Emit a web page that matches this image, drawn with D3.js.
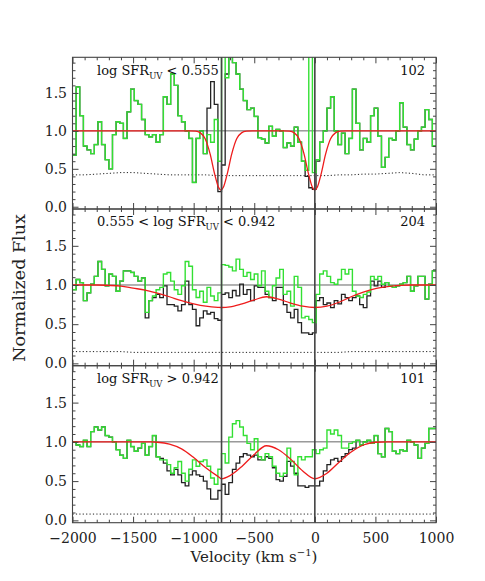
<!DOCTYPE html>
<html><head><meta charset="utf-8">
<script src="https://cdn.jsdelivr.net/npm/d3@7"></script>
<style>body{margin:0;background:#fff}</style>
</head><body><svg id="c" width="485" height="581"></svg>
<script>
// ---------- data ----------
const binStart = -2000, binWidth = 30; // velocity bins (km/s), 100 bins to +1000
const greenP1 = [0.68,1.58,1.2,0.8,0.75,0.7,0.82,1.12,0.82,0.62,
 0.5,0.95,1.12,1.1,0.9,1.25,1.55,1.4,1.35,1.15,
 0.95,0.92,0.95,0.85,0.95,1.45,1.35,1.75,1.6,1.2,
 1.12,1.0,0.9,0.32,0.9,1.0,0.7,0.95,0.85,1.15,
 0.6,2.1,1.7,2.0,1.9,1.75,1.55,1.4,1.28,1.3,
 1.19,0.91,0.89,0.84,1.06,0.93,1.02,1.0,0.78,0.84,
 0.8,1.05,0.85,0.6,0.48,2.1,0.45,0.62,0.85,1.0,
 1.3,1.45,1.0,0.82,0.97,0.7,0.9,1.55,1.1,0.75,
 0.9,0.85,1.2,1.3,0.93,0.52,0.65,0.9,0.88,1.0,
 1.37,1.05,0.82,0.75,0.89,1.0,1.05,1.28,1.15,0.8];
const blackP1 = [0.68,1.58,1.2,0.8,0.75,0.7,0.82,1.12,0.82,0.62,
 0.5,0.95,1.12,1.1,0.9,1.25,1.55,1.4,1.35,1.15,
 0.95,0.92,0.95,0.85,0.95,1.45,1.35,1.75,1.6,1.2,
 1.12,1.0,0.9,0.32,0.9,1.0,0.7,1.3,1.65,1.35,
 0.2,0.55,1.75,2.0,1.9,1.75,1.55,1.4,1.28,1.3,
 1.19,0.91,0.89,0.84,1.06,0.93,1.02,1.0,0.78,0.84,
 0.8,1.05,0.85,0.6,0.4,0.25,0.23,0.6,0.85,1.0,
 1.3,1.45,1.0,0.82,0.97,0.7,0.9,1.55,1.1,0.75,
 0.9,0.85,1.2,1.3,0.93,0.52,0.65,0.9,0.88,1.0,
 1.37,1.05,0.82,0.75,0.89,1.0,1.05,1.28,1.15,0.8];
const greenP2 = [0.94,1.07,1.03,0.8,0.9,1.01,1.11,1.3,1.2,0.99,
 1.14,1.11,0.92,1.05,1.18,1.18,1.16,1.11,1.05,1.09,
 0.65,0.8,0.86,0.94,0.97,1.14,1.16,1.05,0.94,0.88,
 0.99,1.3,1.24,0.94,0.84,0.92,0.78,0.97,0.86,0.8,
 0.9,1.26,1.25,1.23,1.18,1.33,1.2,1.11,1.16,1.07,
 1.14,0.99,1.18,0.92,0.84,0.99,1.09,1.2,0.88,0.92,
 0.73,1.11,0.97,0.58,0.6,0.56,0.52,0.88,1.14,1.18,
 1.11,1.03,1.01,1.07,1.2,1.14,1.2,0.92,0.86,0.84,
 0.88,0.91,1.11,1.07,1.11,1.01,1.03,0.99,0.97,0.99,
 1.01,1.03,1.11,0.92,0.99,1.11,1.11,0.82,1.01,1.18];
const blackP2 = [0.94,1.07,1.03,0.8,0.9,1.01,1.11,1.3,1.2,0.99,
 1.14,1.11,0.92,1.05,1.18,1.18,1.16,1.11,1.05,1.09,
 0.58,0.8,0.84,0.88,0.84,0.99,0.75,0.75,0.73,0.67,
 0.75,1.05,0.75,0.69,0.48,0.58,0.67,0.63,0.65,0.57,
 0.55,0.88,0.9,0.84,0.93,0.86,1.01,0.88,0.94,0.8,
 0.99,0.97,0.97,0.88,0.84,0.8,0.97,0.97,0.75,0.65,
 0.58,0.69,0.52,0.39,0.39,0.37,0.39,0.8,0.84,0.75,
 0.77,0.71,0.8,0.76,0.88,0.84,0.8,0.84,0.86,0.75,
 0.71,0.86,1.05,0.99,1.05,0.97,1.03,0.99,0.97,0.99,
 1.01,1.03,1.11,0.92,0.99,1.11,1.11,0.82,1.01,1.18];
const greenP3 = [1.0,0.96,0.94,1.02,0.94,1.13,1.19,1.15,1.19,1.08,
 1.06,1.0,0.9,0.83,0.79,1.02,0.94,0.88,0.92,0.98,
 0.83,0.94,1.08,0.81,0.77,0.77,0.71,0.6,0.67,0.75,
 0.6,0.5,0.65,0.77,0.69,0.75,0.77,0.69,0.54,0.46,
 0.65,0.85,0.73,1.06,1.23,1.27,1.19,1.08,0.98,0.9,
 1.04,0.81,0.77,0.85,0.81,0.69,0.6,0.56,0.6,0.92,
 0.75,0.58,0.81,0.77,0.81,0.81,0.9,0.85,0.9,0.92,
 1.15,1.1,1.15,1.08,0.92,0.92,0.98,1.0,1.02,0.96,
 1.0,1.02,0.98,1.08,0.85,0.81,1.17,1.13,0.88,0.85,
 0.9,0.88,1.02,1.0,0.96,0.79,0.92,0.98,1.17,1.17];
const blackP3 = [1.0,0.96,0.94,1.02,0.94,1.13,1.19,1.15,1.19,1.08,
 1.06,1.0,0.9,0.83,0.79,1.02,0.94,0.88,0.92,0.98,
 0.83,0.94,1.08,0.81,0.79,0.73,0.63,0.58,0.65,0.58,
 0.48,0.44,0.58,0.63,0.58,0.56,0.5,0.4,0.27,0.27,
 0.38,0.46,0.33,0.48,0.65,0.73,0.81,0.85,0.83,0.81,
 0.83,0.77,0.77,0.81,0.79,0.67,0.52,0.5,0.56,0.75,
 0.69,0.6,0.44,0.44,0.42,0.44,0.44,0.44,0.5,0.63,
 0.71,0.77,0.79,0.75,0.81,0.85,0.9,0.92,1.02,0.96,
 1.0,1.02,0.98,1.08,0.85,0.81,1.17,1.13,0.88,0.85,
 0.9,0.88,1.02,1.0,0.96,0.79,0.92,0.98,1.17,1.17];

// model fits (red): velocity / flux pairs
const modelV1 = [-2000,-1035,-985,-945,-905,-865,-825,-795,-775,-755,-725,-685,-645,-605,-565,-515,
                 -260,-210,-170,-130,-90,-50,-20,0,20,50,90,130,170,210,260,1000];
const modelF1 = [1,1,0.996,0.974,0.895,0.70,0.42,0.256,0.22,0.256,0.42,0.70,0.895,0.974,0.996,1,
                 1,0.996,0.974,0.895,0.70,0.42,0.256,0.22,0.256,0.42,0.70,0.895,0.974,0.996,1,1];
const modelV2 = [-2000,-1800,-1700,-1600,-1500,-1400,-1300,-1200,-1100,-1000,-900,-800,-770,-700,-600,-500,-400,-300,-200,-100,0,100,200,300,400,500,600,700,800,1000];
const modelF2 = [1,1,0.995,0.985,0.96,0.935,0.895,0.85,0.8,0.76,0.73,0.715,0.713,0.72,0.76,0.81,0.85,0.82,0.77,0.73,0.713,0.73,0.78,0.85,0.91,0.955,0.98,0.995,1,1];
const modelV3 = [-2000,-1350,-1300,-1200,-1100,-1000,-900,-800,-770,-700,-600,-500,-400,-300,-200,-100,0,100,200,300,400,500,600,1000];
const modelF3 = [1,1,0.995,0.97,0.91,0.8,0.67,0.56,0.53,0.57,0.69,0.84,0.95,0.9,0.78,0.63,0.53,0.6,0.74,0.87,0.96,0.995,1,1];

// error spectra (dotted), sampled every 100 km/s from -2000 to 1000
const errV = [-2000,-1900,-1800,-1700,-1600,-1500,-1400,-1300,-1200,-1100,-1000,-900,-800,-700,-600,-500,-400,-300,-200,-100,0,100,200,300,400,500,600,700,800,900,1000];
const errP1 = [0.42,0.42,0.43,0.44,0.45,0.45,0.44,0.43,0.42,0.42,0.42,0.42,0.41,0.41,0.41,0.41,0.41,0.41,0.41,0.41,0.41,0.41,0.42,0.42,0.43,0.43,0.44,0.45,0.44,0.42,0.42];
const errP2 = [0.15,0.15,0.15,0.15,0.15,0.14,0.14,0.14,0.14,0.14,0.14,0.14,0.14,0.14,0.14,0.14,0.14,0.14,0.14,0.14,0.14,0.14,0.14,0.15,0.15,0.15,0.15,0.15,0.15,0.15,0.15];
const errP3 = [0.08,0.08,0.08,0.08,0.08,0.08,0.08,0.08,0.08,0.08,0.08,0.08,0.08,0.08,0.08,0.08,0.08,0.08,0.08,0.08,0.08,0.08,0.08,0.08,0.08,0.08,0.08,0.08,0.08,0.08,0.08];

const lineVelocities = [-770, 0];
const xTicks = [-2000,-1500,-1000,-500,0,500,1000];
const yTicks = [0,0.5,1.0,1.5];
const panelPrefix = ["log SFR", "0.555 < log SFR", "log SFR"];
const panelSuffix = [" < 0.555", " < 0.942", " > 0.942"];
const panelCounts = ["102","204","101"];

// ---------- drawing ----------
const svg = d3.select("#c");
svg.append("rect").attr("width",485).attr("height",581).attr("fill","#fff");
const FONT = "DejaVu Serif";
const AXC = "#444";
const x = d3.scaleLinear().domain([-2000,1000]).range([72.5,436]);
const panels = [
  {top:57.3, bot:209,   green:greenP1, black:blackP1, mv:modelV1, mf:modelF1, err:errP1, ly:75},
  {top:209,  bot:365.7, green:greenP2, black:blackP2, mv:modelV2, mf:modelF2, err:errP2, ly:225.5},
  {top:365.7,bot:522.7, green:greenP3, black:blackP3, mv:modelV3, mf:modelF3, err:errP3, ly:382.5}
];
const minorX = d3.range(-2000,1001,100).filter(v=>v%500!==0);
const minorY = d3.range(1,20).map(d=>d/10).filter(v=>Math.abs(v*2-Math.round(v*2))>1e-6);

function stepPts(arr){
  const pts = arr.map((f,i)=>[binStart+i*binWidth, f]);
  pts.push([binStart+arr.length*binWidth, arr[arr.length-1]]);
  return pts;
}
function addAxis(parent, gen, tr, vals, size, pad, fmt){
  const a = parent.append("g").attr("transform",tr)
    .call(gen.tickValues(vals).tickSizeInner(size).tickSizeOuter(0)
      .tickPadding(pad).tickFormat(fmt || (()=>"")));
  a.select(".domain").remove();
  a.selectAll("line").attr("stroke",AXC);
  a.selectAll("text").attr("font-family",FONT).attr("font-size",14).attr("fill","#222");
  return a;
}

panels.forEach((p,k)=>{
  const y = d3.scaleLinear().domain([-0.03,1.97]).range([p.bot,p.top]);
  const g = svg.append("g");
  const cid = "clip"+k;
  svg.append("clipPath").attr("id",cid).append("rect")
    .attr("x",x.range()[0]).attr("y",p.top).attr("width",x.range()[1]-x.range()[0]).attr("height",p.bot-p.top);
  const inner = g.append("g").attr("clip-path",`url(#${cid})`);
  inner.append("line").attr("x1",x(-2000)).attr("x2",x(1000)).attr("y1",y(1)).attr("y2",y(1))
    .attr("stroke","#666").attr("stroke-width",1);
  inner.append("path").datum(errV.map((v,i)=>[v,p.err[i]]))
    .attr("d",d3.line().x(d=>x(d[0])).y(d=>y(d[1])))
    .attr("fill","none").attr("stroke","#222").attr("stroke-width",1).attr("stroke-dasharray","1.2,2.2");
  const step = d3.line().x(d=>x(d[0])).y(d=>y(d[1])).curve(d3.curveStepAfter);
  inner.append("path").datum(stepPts(p.black)).attr("d",step)
    .attr("fill","none").attr("stroke","#222").attr("stroke-width",1.3);
  inner.append("path").datum(stepPts(p.green)).attr("d",step)
    .attr("fill","none").attr("stroke","#33e033").attr("stroke-width",1.4);
  inner.append("path").datum(p.mv.map((v,i)=>[v,p.mf[i]]))
    .attr("d",d3.line().x(d=>x(d[0])).y(d=>y(d[1])).curve(d3.curveMonotoneX))
    .attr("fill","none").attr("stroke","#ee1c1c").attr("stroke-width",1.3);
  lineVelocities.forEach(v=>{
    inner.append("line").attr("x1",x(v)).attr("x2",x(v)).attr("y1",p.top).attr("y2",p.bot)
      .attr("stroke","#444").attr("stroke-width",1.6);
  });
  const isBottom = k===panels.length-1;
  addAxis(g, d3.axisBottom(x), `translate(0,${p.bot})`, xTicks, -6, 10.5, isBottom ? d3.format("d") : null);
  addAxis(g, d3.axisBottom(x), `translate(0,${p.bot})`, minorX, -3, 0);
  addAxis(g, d3.axisTop(x), `translate(0,${p.top})`, xTicks, -6, 0);
  addAxis(g, d3.axisTop(x), `translate(0,${p.top})`, minorX, -3, 0);
  addAxis(g, d3.axisLeft(y), `translate(${x.range()[0]},0)`, yTicks, -6, 5.5, d3.format(".1f"));
  addAxis(g, d3.axisLeft(y), `translate(${x.range()[0]},0)`, minorY, -3, 0);
  addAxis(g, d3.axisRight(y), `translate(${x.range()[1]},0)`, yTicks, -6, 0);
  addAxis(g, d3.axisRight(y), `translate(${x.range()[1]},0)`, minorY, -3, 0);
  g.append("rect").attr("x",x.range()[0]).attr("y",p.top).attr("width",x.range()[1]-x.range()[0])
    .attr("height",p.bot-p.top).attr("fill","none").attr("stroke",AXC).attr("stroke-width",1.1);
  const t = g.append("text").attr("x",97).attr("y",p.ly).attr("font-family",FONT).attr("font-size",13).attr("fill","#111")
    .attr("xml:space","preserve");
  t.append("tspan").text(panelPrefix[k]);
  t.append("tspan").attr("font-size",8.5).attr("dy",4).text("UV");
  t.append("tspan").attr("dy",-4).text(panelSuffix[k]);
  g.append("text").attr("x",425).attr("y",p.ly).attr("text-anchor","end").attr("font-family",FONT)
    .attr("font-size",13).attr("fill","#111").text(panelCounts[k]);
});
const xt = svg.append("text").attr("x",254).attr("y",562).attr("text-anchor","middle")
  .attr("font-family",FONT).attr("font-size",15).attr("fill","#222");
xt.append("tspan").text("Velocity (km s");
xt.append("tspan").attr("font-size",10).attr("dy",-6).text("−1");
xt.append("tspan").attr("dy",6).text(")");
svg.append("text").attr("transform","translate(25,288) rotate(-90)").attr("text-anchor","middle")
  .attr("font-family",FONT).attr("font-size",17.5).attr("fill","#222").text("Normalized Flux");
</script></body></html>
